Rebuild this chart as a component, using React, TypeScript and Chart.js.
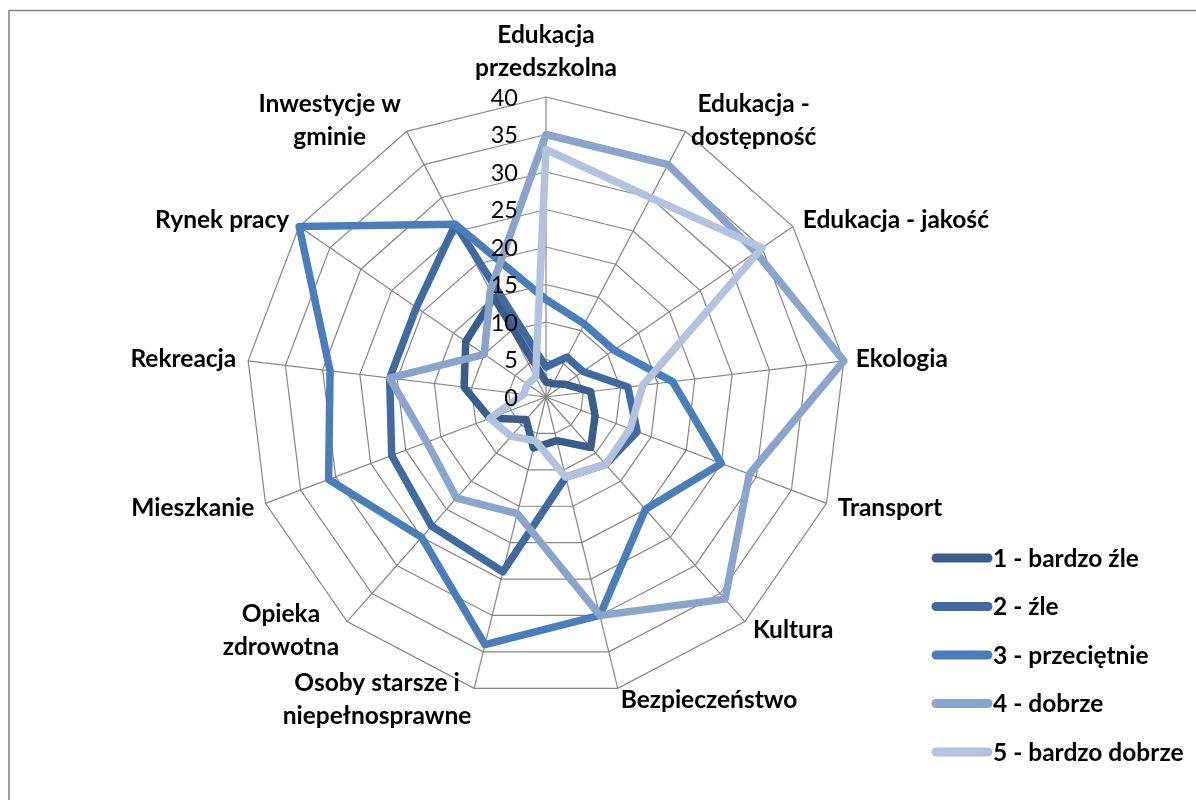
import React, { useEffect, useRef } from 'react';
import { Chart, registerables } from 'chart.js';

Chart.register(...registerables);

const categories: string[][] = [
  ['Edukacja', 'przedszkolna'],
  ['Edukacja -', 'dostępność'],
  ['Edukacja - jakość'],
  ['Ekologia'],
  ['Transport'],
  ['Kultura'],
  ['Bezpieczeństwo'],
  ['Osoby starsze i', 'niepełnosprawne'],
  ['Opieka', 'zdrowotna'],
  ['Mieszkanie'],
  ['Rekreacja'],
  ['Rynek pracy'],
  ['Inwestycje w', 'gminie'],
];

const seriesNames = ['1 - bardzo źle', '2 - źle', '3 - przeciętnie', '4 - dobrze', '5 - bardzo dobrze'];

const bardzoZle = [2, 2, 3, 6, 7, 9, 6, 7, 4, 8, 11, 13, 15];
const zle = [4, 6, 6, 11, 13, 12, 11, 24, 23, 22, 21, 21, 26];
const przecietnie = [13, 11, 11, 17, 25, 20, 30, 34, 25, 31, 29, 40, 26];
const dobrze = [35, 35, 34, 40, 29, 36, 30, 16, 18, 17, 21, 10, 16];
const bardzoDobrze = [33, 30, 35, 13, 12, 12, 11, 6, 7, 8, 3, 3, 3];

const seriesValues = [bardzoZle, zle, przecietnie, dobrze, bardzoDobrze];
const seriesColors = ['#3A5D8C', '#416AA0', '#4A7EBB', '#8AA4CB', '#B4C3DD'];

const tickValues = [0, 5, 10, 15, 20, 25, 30, 35, 40];

const FONT = 'Lato, "Open Sans", sans-serif';

export default function App() {
  const ref = useRef<HTMLCanvasElement | null>(null);

  useEffect(() => {
    const canvas = ref.current;
    if (!canvas) return;

    const customPlugin = {
      id: 'excelLook',
      beforeDraw(chart: any) {
        const ctx = chart.ctx;
        ctx.save();
        ctx.fillStyle = '#ffffff';
        ctx.fillRect(0, 0, chart.width, chart.height);
        ctx.restore();
      },
      afterDatasetsDraw(chart: any) {
        const ctx = chart.ctx;
        const scale = chart.scales.r;
        ctx.save();
        ctx.fillStyle = '#000000';
        ctx.font = `23.5px ${FONT}`;
        ctx.textAlign = 'right';
        ctx.textBaseline = 'middle';
        tickValues.forEach((v) => {
          const d = scale.getDistanceFromCenterForValue(v);
          ctx.fillText(String(v), scale.xCenter - 28, scale.yCenter - d + 1);
        });
        ctx.restore();
      },
      afterDraw(chart: any) {
        const ctx = chart.ctx;
        const scale = chart.scales.r;
        const n = categories.length;
        const lineH = 33;
        ctx.save();
        ctx.fillStyle = '#000000';
        ctx.font = `bold 24.5px ${FONT}`;
        ctx.textBaseline = 'middle';
        categories.forEach((lines, i) => {
          const pos = scale.getPointPosition(i, scale.drawingArea + 12);
          const ang = (i * 360) / n;
          const widths = lines.map((l) => ctx.measureText(l).width);
          const bw = Math.max(...widths);
          let left: number;
          if (ang < 5 || Math.abs(ang - 180) < 5) left = pos.x - bw / 2;
          else if (ang < 180) left = pos.x;
          else left = pos.x - bw;
          const bh = lines.length * lineH;
          let top: number;
          if (i === 0) top = pos.y - bh;
          else top = pos.y - bh / 2;
          lines.forEach((l, k) => {
            ctx.textAlign = 'center';
            ctx.fillText(l, left + bw / 2, top + lineH * k + lineH / 2);
          });
        });

        // legend
        const lx0 = 936;
        const lx1 = 988;
        const ly0 = 558;
        const lstep = 48.5;
        seriesNames.forEach((name, i) => {
          const y = ly0 + i * lstep;
          ctx.strokeStyle = seriesColors[i];
          ctx.lineWidth = 9;
          ctx.lineCap = 'round';
          ctx.beginPath();
          ctx.moveTo(lx0, y);
          ctx.lineTo(lx1, y);
          ctx.stroke();
          ctx.textAlign = 'left';
          ctx.fillStyle = '#000000';
          ctx.fillText(name, 993, y + 1);
        });

        // outer border
        ctx.strokeStyle = '#868686';
        ctx.lineWidth = 1.6;
        ctx.lineCap = 'butt';
        ctx.beginPath();
        ctx.moveTo(9, 820);
        ctx.lineTo(9, 10.5);
        ctx.lineTo(1220, 10.5);
        ctx.stroke();
        ctx.restore();
      },
    };

    const chart = new Chart(canvas, {
      type: 'radar',
      data: {
        labels: categories,
        datasets: seriesValues.map((vals, i) => ({
          label: seriesNames[i],
          data: vals,
          borderColor: seriesColors[i],
          backgroundColor: 'transparent',
          borderWidth: 7.5,
          pointRadius: 0,
          pointHoverRadius: 0,
          fill: false,
          tension: 0,
          borderJoinStyle: 'round' as const,
          borderCapStyle: 'round' as const,
          order: 4 - i,
        })),
      },
      options: {
        responsive: false,
        animation: false,
        layout: { padding: { left: 246, right: 350, top: 97, bottom: 103 } },
        plugins: {
          legend: { display: false },
          tooltip: { enabled: false },
        },
        scales: {
          r: {
            min: 0,
            max: 40,
            ticks: { stepSize: 5, display: false, showLabelBackdrop: false },
            pointLabels: { display: false },
            grid: { color: '#868686', lineWidth: 1.2 },
            angleLines: { color: '#868686', lineWidth: 1.2 },
          },
        },
      },
      plugins: [customPlugin],
    });

    return () => chart.destroy();
  }, []);

  return (
    <div style={{ position: 'fixed', left: 0, top: 0, width: 1196, height: 800, background: '#fff' }}>
      <canvas ref={ref} width={1196} height={800} style={{ display: 'block', width: 1196, height: 800 }} />
    </div>
  );
}
